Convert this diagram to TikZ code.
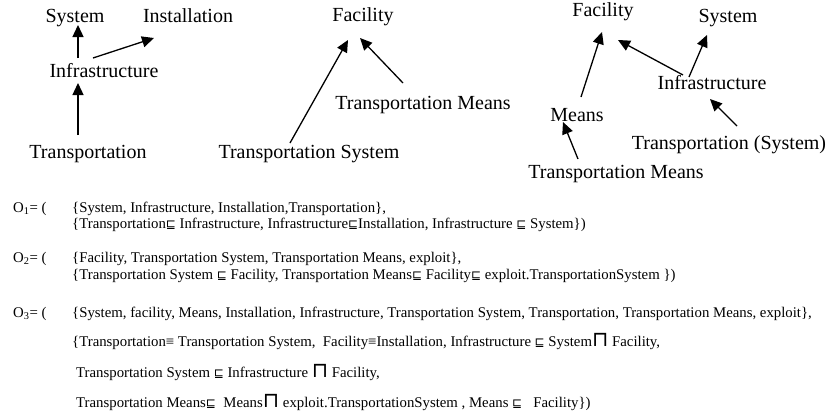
\documentclass[tikz,border=0pt]{standalone}
\usepackage{fontspec}
\setmainfont{Liberation Serif}
\newfontfamily\symfont{DejaVu Sans}
\usetikzlibrary{arrows.meta,calc}
\newcommand\mysqle{{\symfont\fontsize{12}{12}\selectfont ⊑}}
\newcommand\mycap{{\symfont\fontsize{21}{22}\selectfont ⊓}}
\tikzset{
  lbl/.style={anchor=base,inner sep=0pt,font=\fontsize{20}{24}\selectfont},
  txt/.style={anchor=base west,inner sep=0pt,font=\fontsize{14.8}{16}\selectfont},
  arr/.style={line width=1.3pt,-{Triangle[length=12pt,width=11pt]}}
}
\begin{document}
\begin{tikzpicture}[x=1pt,y=-1pt]
\useasboundingbox (0,0) rectangle (831,418);
% left diagram
\node[lbl] (sysL) at (75,22) {System};
\node[lbl] (instL) at (188,22) {Installation};
\node[lbl] (infL) at (104,77) {Infrastructure};
\node[lbl] (trL) at (88,158) {Transportation};
\draw[arr] ($(infL.base)+(-26,-19)$) -- ($(sysL.base)+(3,3)$);
\draw[arr] ($(infL.base)+(-11,-19)$) -- ($(instL.base)+(-34,16)$);
\draw[arr] ($(trL.base)+(-10,-23)$) -- ($(infL.base)+(-26,6)$);
% middle diagram
\node[lbl] (facM) at (363,21) {Facility};
\node[lbl] (tmM) at (423,109) {Transportation Means};
\node[lbl] (tsM) at (309,158) {Transportation System};
\draw[arr] ($(tsM.base)+(-19,-15)$) -- ($(facM.base)+(-15,19)$);
\draw[arr] ($(tmM.base)+(-20,-26)$) -- ($(facM.base)+(-3,17)$);
% right diagram
\node[lbl] (facR) at (603,16) {Facility};
\node[lbl] (sysR) at (728,22) {System};
\node[lbl] (infR) at (712,89) {Infrastructure};
\node[lbl] (meansR) at (577,121) {Means};
\node[lbl] (tsR) at (729,149) {Transportation (System)};
\node[lbl] (tmR) at (616,178) {Transportation Means};
\draw[arr] ($(meansR.base)+(4,-24)$) -- ($(facR.base)+(-1,16)$);
\draw[arr] ($(infR.base)+(-29,-14)$) -- ($(facR.base)+(15,24)$);
\draw[arr] ($(infR.base)+(-23,-12)$) -- ($(sysR.base)+(-21,13)$);
\draw[arr] ($(tmR.base)+(-38,-19)$) -- ($(meansR.base)+(-14,1)$);
\draw[arr] ($(tsR.base)+(8,-23)$) -- ($(infR.base)+(-2,10)$);
% text block
\node[txt] (o1) at (13,212) {O\textsubscript{1}= (};
\node[txt] (o1a) at (72,212) {\{System, Infrastructure, Installation,Transportation\},};
\node[txt] (o1b) at (72,228) {\{Transportation\mysqle{} Infrastructure, Infrastructure\mysqle Installation, Infrastructure \mysqle{} System\})};
\node[txt] (o2) at (13,262) {O\textsubscript{2}= (};
\node[txt] (o2a) at (72,262) {\{Facility, Transportation System, Transportation Means, exploit\},};
\node[txt] (o2b) at (72,279) {\{Transportation System \mysqle{} Facility, Transportation Means\mysqle{} Facility\mysqle{} exploit.TransportationSystem \})};
\node[txt] (o3) at (13,317) {O\textsubscript{3}= (};
\node[txt] (o3a) at (72,317) {\{System, facility, Means, Installation, Infrastructure, Transportation System, Transportation, Transportation Means, exploit\},};
\node[txt] (o3b) at (72,346) {\{Transportation≡ Transportation System,\ \ Facility≡Installation, Infrastructure \mysqle{} System\mycap{} Facility,};
\node[txt] (o3c) at (76,377) {Transportation System \mysqle{} Infrastructure \mycap{} Facility,};
\node[txt] (o3d) at (76,407) {Transportation Means\mysqle{}\ \ Means\mycap{} exploit.TransportationSystem , Means \mysqle{}\ \ \ Facility\})};
\end{tikzpicture}
\end{document}
